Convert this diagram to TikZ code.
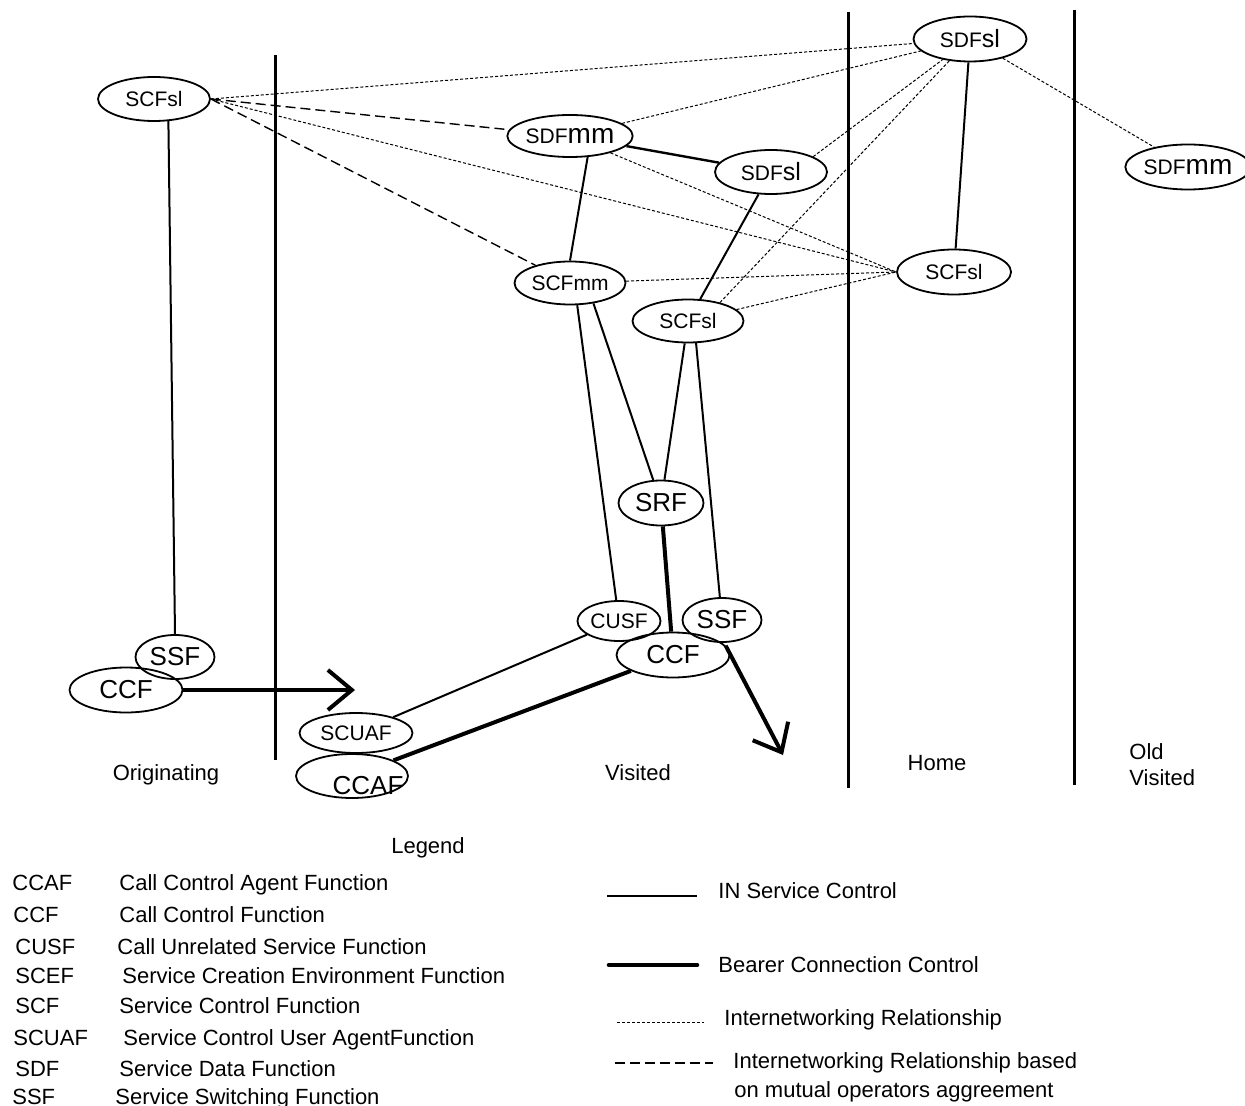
\documentclass[tikz,border=0pt]{standalone}
\usepackage{fontspec}
\setmainfont{Liberation Sans}
\usetikzlibrary{arrows.meta,shapes.geometric}

\begin{document}
\begin{tikzpicture}[x=0.5pt,y=-0.5pt]

\def\fnwidth{56pt}
\def\fnheight{22pt}
\def\mmtext{{\fontsize{14}{14}\selectfont mm}}
\def\sltext{{\fontsize{12.5}{12.5}\selectfont sl}}

\tikzset{line/.style={draw,line width=1pt}}
\tikzset{bearer/.style={draw,line width=2pt}}
\tikzset{zone/.style={draw,line width=1.5pt}}
\tikzset{iwr/.style={draw,line width=0.5pt,dash pattern=on 1.5pt off 1pt}}
\tikzset{iwrmutual/.style={draw,line width=0.7pt,dash pattern=on 5pt off 2.5pt}}
\tikzset{bigarrow/.style={bearer,-{Straight Barb[length=12pt,width=20pt]}}}
\tikzset{textnode/.style={inner sep=0pt,font=\fontsize{11}{13}\selectfont}}
\tikzset{keynode/.style={textnode,anchor=base west}}
\tikzset{fn/.style={ellipse,draw,line width=0.9pt,inner sep=0pt,minimum width=\fnwidth,minimum height=\fnheight,font=\fontsize{10.5}{12}\selectfont}}
\tikzset{bigfn/.style={fn,font=\fontsize{13}{15}\selectfont}}

\useasboundingbox (0,0) rectangle (1245,1106);

% domains
\path[zone] (275,55) to (275,760);
\path[zone] (848,12) to (848,788);
\path[zone] (1074,10) to (1074,785);

\node[textnode] (originating) at (166,775) {Originating};
\node[textnode] (visited) at (638,773) {Visited};
\node[textnode] (home) at (937,763) {Home};
\node[textnode,align=left,anchor=west] (oldvisited) at (1129,765) {Old\\Visited};

% functional entities
\node[fn] (scfO) at (154,99) {SCFsl};
\node[fn,minimum width=56.5pt,minimum height=21pt] (sdfV) at (570,136) {SDF\mmtext};
\node[fn] (sdfVsl) at (771,172) {SDF\sltext};
\node[fn,minimum width=55.5pt,minimum height=21.5pt] (scfVmm) at (570,283) {SCFmm};
\node[fn,minimum width=55.5pt,minimum height=21.5pt] (scfVsl) at (688,321) {SCFsl};
\node[fn,minimum width=56.5pt,minimum height=22.5pt] (sdfH) at (970,39) {SDF\sltext};
\node[fn,minimum width=55pt,minimum height=22.5pt] (sdfOld) at (1188,167) {SDF\mmtext};
\node[fn,minimum width=57pt,minimum height=22.5pt] (scfH) at (954,272) {SCFsl};
\node[bigfn,minimum width=42.5pt,minimum height=22.5pt] (srfV) at (661,503) {SRF};
\node[fn,minimum width=41.5pt,minimum height=20pt] (cusfV) at (619,621) {CUSF};
\node[bigfn,minimum width=39.5pt] (ssfV) at (722,620) {SSF};
\node[bigfn,minimum width=56.5pt,minimum height=22.5pt] (ccfV) at (673,655) {CCF};
\node[bigfn,minimum width=39.5pt] (ssfO) at (175,657) {SSF};
\node[bigfn,minimum width=56.5pt,minimum height=22.5pt] (ccfO) at (126,690) {CCF};
\node[fn,minimum width=56.5pt,minimum height=20pt] (scuafV) at (356,733) {SCUAF};
\node[bigfn,label={[font=\fontsize{13}{15}\selectfont,inner sep=0pt,xshift=8pt,yshift=-5pt]center:CCAF}] (ccafV) at (352,776) {};

% IN service control
\path[line] (scfO.-57) to (ssfO.north);
\path[line] (sdfV.-50) to (scfVmm.north);
\path[line,line width=1.2pt] (sdfV) to (sdfVsl);
\path[line] (sdfVsl) to (scfVsl);
\path[line] (sdfH) to (scfH);
\path[line] (scfVmm.-72) to (cusfV);
\path[line] (scfVmm.-41) to (srfV);
\path[line] (scfVsl) to (srfV);
\path[line] (scfVsl.-70) to (ssfV);
\path[line] (cusfV) to (scuafV);

% bearer connection control
\coordinate (ogout) at (355,690);
\coordinate (vsout) at (783,755);
\path[bearer] (srfV) to (ccfV);
\path[bearer] (ccfV) to (ccafV);
\path[bigarrow] (ccfO.east) to (ogout);
\path[bigarrow] (ccfV.10) to (vsout);

% internetworking
\path[iwr] (scfO.east) to (sdfH);
\path[iwr] (scfO.east) to (scfH.west);
\path[iwrmutual] (scfO.east) to (sdfV);
\path[iwrmutual] (scfO.east) to (scfVmm);
\path[iwr] (sdfV) to (sdfH);
\path[iwr] (sdfV) to (scfH.west);
\path[iwr] (sdfVsl.20) to (sdfH);
\path[iwr] (scfVmm) to (scfH.west);
\path[iwr] (scfVsl.30) to (sdfH);
\path[iwr] (scfVsl) to (scfH.west);
\path[iwr] (sdfH) to (sdfOld);

% legend
\node[textnode] (legend) at (428,848) {Legend};

\node[keynode] (kCCAF) at (12,890) {CCAF};
\node[keynode] (kCCF) at (13,922) {CCF};
\node[keynode] (kCUSF) at (15,954) {CUSF};
\node[keynode] (kSCEF) at (15,983) {SCEF};
\node[keynode] (kSCF) at (15,1013) {SCF};
\node[keynode] (kSCUAF) at (13,1045) {SCUAF};
\node[keynode] (kSDF) at (15,1076) {SDF};
\node[keynode] (kSSF) at (12,1104) {SSF};

\node[keynode] (dCCAF) at (119,890) {Call Control Agent Function};
\node[keynode] (dCCF) at (119,922) {Call Control Function};
\node[keynode] (dCUSF) at (117,954) {Call Unrelated Service Function};
\node[keynode] (dSCEF) at (122,983) {Service Creation Environment Function};
\node[keynode] (dSCF) at (119,1013) {Service Control Function};
\node[keynode] (dSCUAF) at (123,1045) {Service Control User AgentFunction};
\node[keynode] (dSDF) at (119,1076) {Service Data Function};
\node[keynode] (dSSF) at (115,1104) {Service Switching Function};

\path[line] (607,896) to (697,896);
\path[bearer,line width=2.3pt,line cap=round] (609,965) to (697,965);
\path[iwr] (617,1022) to (704,1022);
\path[iwrmutual,line width=0.9pt] (615,1063) to (713,1063);

\node[keynode] (lctrl) at (718,898) {IN Service Control};
\node[keynode] (lbearer) at (718,972) {Bearer Connection Control};
\node[keynode] (liwr) at (724,1025) {Internetworking Relationship};
\node[keynode] (liwrmutual) at (733,1068) {Internetworking Relationship based};
\node[keynode] (liwrmutual2) at (734,1097) {on mutual operators aggreement};

\end{tikzpicture}
\end{document}
